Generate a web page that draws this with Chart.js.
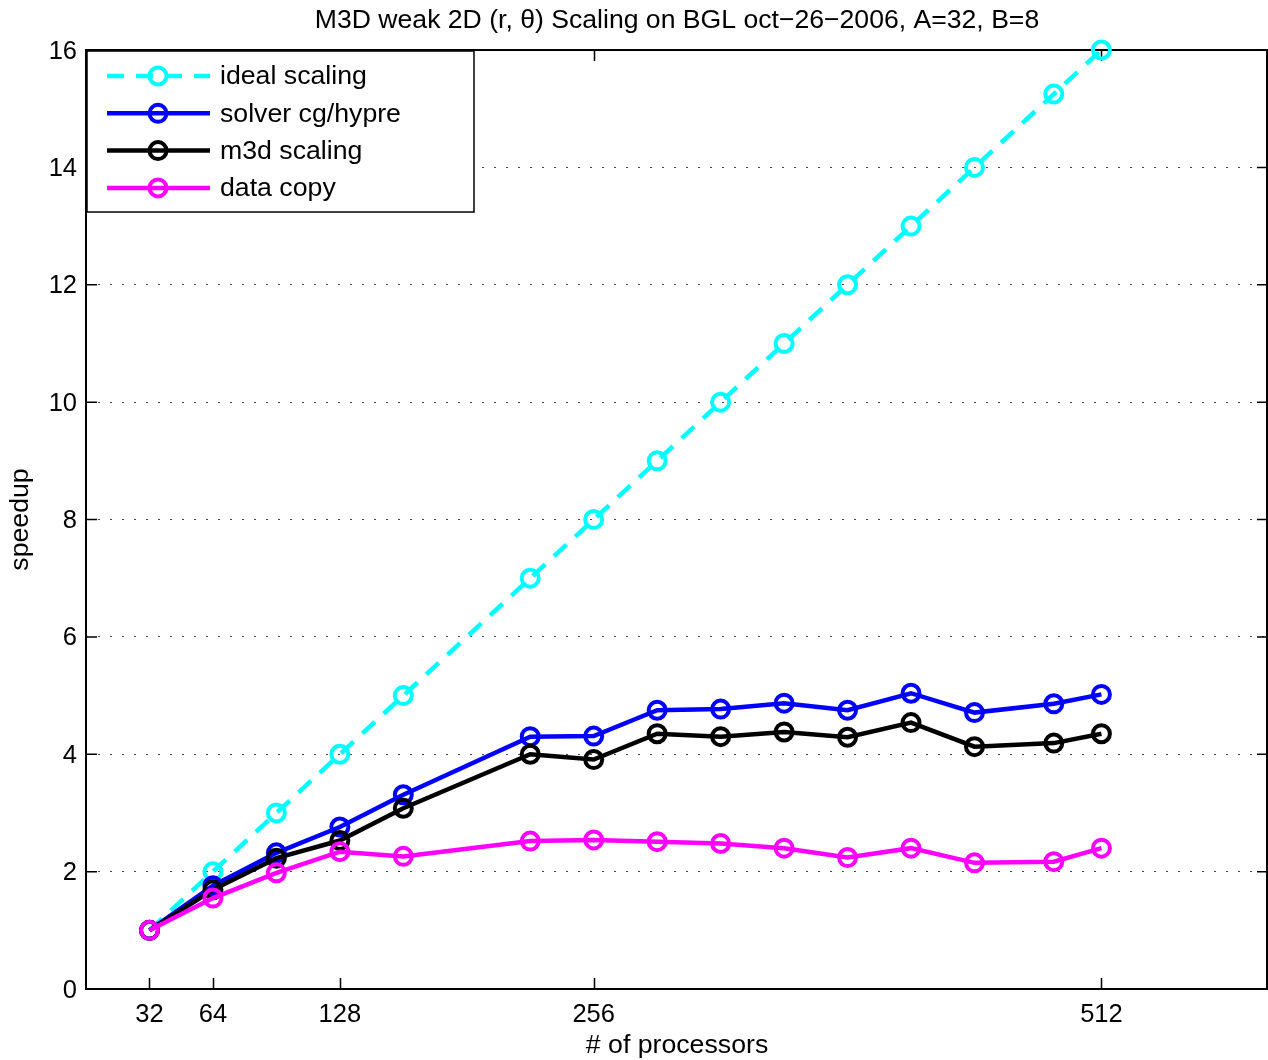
<!DOCTYPE html>
<html>
<head>
<meta charset="utf-8">
<script src="https://cdn.jsdelivr.net/npm/chart.js@4.4.0/dist/chart.umd.min.js"></script>
<style>
  html, body { margin: 0; padding: 0; background: #fff; }
  #wrap { width: 1268px; height: 1060px; }
</style>
</head>
<body>
<div id="wrap"><canvas id="chart"></canvas></div>
<script>
// processors on the x axis, speedup on the y axis
const processors = [32, 64, 96, 128, 160, 224, 256, 288, 320, 352, 384, 416, 448, 488, 512];
const idealScaling = [1, 2, 3, 4, 5, 7, 8, 9, 10, 11, 12, 13, 14, 15.25, 16];
const solverCgHypre = [1, 1.76, 2.32, 2.76, 3.31, 4.30, 4.31, 4.75, 4.77, 4.87, 4.75, 5.04, 4.71, 4.86, 5.02];
const m3dScaling = [1, 1.69, 2.23, 2.53, 3.08, 4.00, 3.91, 4.35, 4.30, 4.38, 4.29, 4.54, 4.13, 4.19, 4.35];
const dataCopy = [1, 1.55, 1.98, 2.34, 2.26, 2.52, 2.54, 2.51, 2.48, 2.40, 2.24, 2.40, 2.15, 2.17, 2.40];
const xTicks = [32, 64, 128, 256, 512];
const yTicks = [0, 2, 4, 6, 8, 10, 12, 14, 16];

const FONT = "'Liberation Sans', Arial, Helvetica, sans-serif";

function toPoints(ys) {
    return processors.map((x, i) => ({ x: x, y: ys[i] }));
}

function series(label, ys, color, order, dash) {
    return {
        label: label,
        data: toPoints(ys),
        borderColor: color,
        borderWidth: 4.5,
        borderDash: dash || [],
        pointStyle: 'circle',
        pointRadius: 8.5,
        pointBorderWidth: 4,
        pointBorderColor: color,
        pointBackgroundColor: 'rgba(0,0,0,0)',
        fill: false,
        tension: 0,
        clip: false,
        order: order
    };
}

// axes box with inward tick marks, matlab style
const boxAxes = {
    id: 'boxAxes',
    beforeDatasetsDraw(chart) {
        const ctx = chart.ctx;
        const a = chart.chartArea;
        const xs = chart.scales.x, ys = chart.scales.y;
        const tl = 11;
        ctx.save();
        ctx.strokeStyle = '#000';
        ctx.lineWidth = 1.5;
        ctx.beginPath();
        xTicks.forEach(v => {
            const px = Math.round(xs.getPixelForValue(v)) + 0.5;
            ctx.moveTo(px, a.bottom); ctx.lineTo(px, a.bottom - tl);
            ctx.moveTo(px, a.top); ctx.lineTo(px, a.top + tl);
        });
        yTicks.forEach(v => {
            const py = ys.getPixelForValue(v);
            ctx.moveTo(a.left, py); ctx.lineTo(a.left + tl, py);
            ctx.moveTo(a.right, py); ctx.lineTo(a.right - tl, py);
        });
        ctx.stroke();
        ctx.lineWidth = 2;
        ctx.strokeRect(a.left, a.top, a.right - a.left - 1, a.bottom - a.top);
        ctx.restore();
    }
};

// legend box in the upper left corner of the plot
const boxLegend = {
    id: 'boxLegend',
    afterDatasetsDraw(chart) {
        const ctx = chart.ctx;
        const a = chart.chartArea;
        const x0 = a.left + 1, y0 = a.top + 1, w = 387, h = 161;
        ctx.save();
        ctx.fillStyle = '#fff';
        ctx.fillRect(x0, y0, w, h);
        ctx.strokeStyle = '#000';
        ctx.lineWidth = 1.5;
        ctx.strokeRect(x0, y0, w, h);
        chart.data.datasets.forEach((ds, i) => {
            const y = y0 + 25 + i * 37.3;
            ctx.strokeStyle = ds.borderColor;
            ctx.lineWidth = ds.borderWidth;
            ctx.setLineDash(ds.borderDash);
            ctx.beginPath();
            ctx.moveTo(x0 + 20, y);
            ctx.lineTo(x0 + 123, y);
            ctx.stroke();
            ctx.setLineDash([]);
            ctx.lineWidth = ds.pointBorderWidth;
            ctx.beginPath();
            ctx.arc(x0 + 71, y, ds.pointRadius, 0, Math.PI * 2);
            ctx.stroke();
            ctx.fillStyle = '#000';
            ctx.font = '26.7px ' + FONT;
            ctx.textBaseline = 'middle';
            ctx.textAlign = 'left';
            ctx.fillText(ds.label, x0 + 133, y + 1);
        });
        ctx.restore();
    }
};

new Chart(document.getElementById('chart'), {
    type: 'line',
    data: {
        datasets: [
            series('ideal scaling', idealScaling, '#00ffff', 4, [17, 12]),
            series('solver cg/hypre', solverCgHypre, '#0000ff', 3),
            series('m3d scaling', m3dScaling, '#000000', 2),
            series('data copy', dataCopy, '#ff00ff', 1)
        ]
    },
    options: {
        responsive: true,
        maintainAspectRatio: false,
        animation: false,
        devicePixelRatio: 1,
        layout: { padding: 0, autoPadding: false },
        plugins: {
            legend: { display: false },
            tooltip: { enabled: false },
            title: {
                display: true,
                fullSize: false,
                text: 'M3D weak 2D (r, \u03b8) Scaling on BGL oct\u221226\u22122006, A=32, B=8',
                color: '#000',
                font: { family: FONT, size: 26.6, weight: 'normal' },
                padding: { top: 4.6, bottom: 13.5 }
            }
        },
        scales: {
            x: {
                type: 'linear',
                min: 0,
                max: 596,
                afterBuildTicks: scale => { scale.ticks = xTicks.map(v => ({ value: v })); },
                afterFit: scale => { scale.height = 71; },
                grid: { display: false, drawTicks: false },
                border: { display: false },
                ticks: {
                    autoSkip: false,
                    maxRotation: 0,
                    padding: 11,
                    color: '#000',
                    font: { family: FONT, size: 25.5 }
                },
                title: {
                    display: true,
                    text: '# of processors',
                    color: '#000',
                    font: { family: FONT, size: 26.7, lineHeight: 1.05 },
                    padding: { top: 0, bottom: 0 }
                }
            },
            y: {
                min: 0,
                max: 16,
                afterFit: scale => { scale.width = 86; },
                grid: {
                    drawTicks: false,
                    lineWidth: 1,
                    color: c => (c.tick.value === 0 || c.tick.value === 16) ? 'rgba(0,0,0,0)' : '#444'
                },
                border: { display: false, dash: [2, 10] },
                ticks: {
                    stepSize: 2,
                    padding: 9,
                    labelOffset: 1.5,
                    color: '#000',
                    font: { family: FONT, size: 25.5 }
                },
                title: {
                    display: true,
                    text: 'speedup',
                    color: '#000',
                    font: { family: FONT, size: 26.7 },
                    padding: { top: 5, bottom: 0 }
                }
            }
        }
    },
    plugins: [boxAxes, boxLegend]
});
</script>
</body>
</html>
